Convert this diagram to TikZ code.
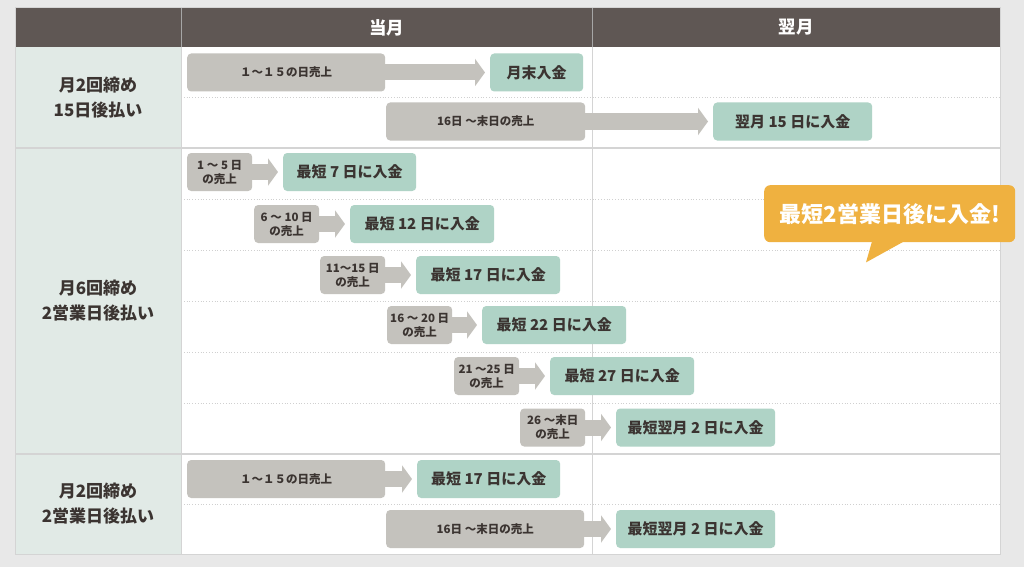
\documentclass[tikz,border=0pt]{standalone}
\usepackage{fontspec}
\setmainfont{Noto Sans CJK JP}
\usetikzlibrary{arrows.meta}
\definecolor{bgpage}{HTML}{E8E8E8}
\definecolor{hdrfill}{HTML}{5F5754}
\definecolor{labfill}{HTML}{E1EAE6}
\definecolor{boxgray}{HTML}{C4C2BD}
\definecolor{boxgreen}{HTML}{AFD3C6}
\definecolor{callorange}{HTML}{EFB140}
\definecolor{txt}{HTML}{3B3431}
\definecolor{gridline}{HTML}{D4D4D4}
\definecolor{dotline}{HTML}{D0D0D0}
\begin{document}
\begin{tikzpicture}[x=1pt,y=-1pt,
  gbox/.style={fill=boxgray, rounded corners=4pt, minimum height=38pt, inner sep=0pt,
    text=txt, font=\bfseries\fontsize{11.5}{14}\selectfont, align=center, anchor=west},
  rbox/.style={fill=boxgreen, rounded corners=4pt, minimum height=38pt, inner sep=0pt,
    text=txt, font=\bfseries\fontsize{15}{18}\selectfont, anchor=west},
  fat/.style={draw=boxgray, line width=16pt, -{Triangle[width=27pt,length=10pt]}},
  lab/.style={text=txt, font=\bfseries\fontsize{17}{25}\selectfont, align=center},
  hdr/.style={text=white, font=\bfseries\fontsize{17.5}{20}\selectfont},
  sep/.style={draw=gridline, line width=1.5pt},
  dotsep/.style={draw=dotline, line width=0.8pt, dotted}
]
\useasboundingbox (0,0) rectangle (1024,567);
\fill[bgpage] (0,0) rectangle (1024,567);
% table
\fill[white] (15,8) rectangle (1000,554);
\fill[labfill] (15,47) rectangle (181,554);
\fill[hdrfill] (15,8) rectangle (1000,47);
% grid
\foreach \yy in {97.5,504} \draw[dotsep] (181,\yy) -- (1000,\yy);
\foreach \yy in {199,250,301,352,403} \draw[dotsep] (181,\yy) -- (1000,\yy);
\draw[sep] (15,148) -- (1000,148);
\draw[sep] (15,454) -- (1000,454);
\draw[draw=gridline, line width=1pt] (181,47) -- (181,554);
\draw[draw=gridline, line width=1pt] (592,47) -- (592,554);
\draw[draw=gray!70, line width=1pt] (181,8) -- (181,47);
\draw[draw=gray!70, line width=1pt] (592,8) -- (592,47);
\draw[draw=gridline, line width=1pt] (15,8) rectangle (1000,554);
% headers
\node[hdr] (h1) at (386.5,27.5) {当月};
\node[hdr] (h2) at (796,27.5) {翌月};
% row labels
\node[lab] (l1) at (98,97.5) {月2回締め\\15日後払い};
\node[lab] (l2) at (98,301) {月6回締め\\2営業日後払い};
\node[lab] (l3) at (98,504) {月2回締め\\2営業日後払い};
% section 1
\node[gbox, minimum width=198pt] (a1) at (187,72.5) {１〜１５の日売上};
\node[rbox, minimum width=93pt] (b1) at (490,72.5) {月末入金};
\node[gbox, minimum width=199pt] (a2) at (386,121.5) {16日 〜末日の売上};
\node[rbox, minimum width=159pt] (b2) at (713,121.5) {翌月 15 日に入金};
% section 2
\node[gbox, minimum width=65pt] (c1) at (187,172) {1 〜 5 日\\の売上};
\node[rbox, minimum width=133pt] (d1) at (283,172) {最短 7 日に入金};
\node[gbox, minimum width=65pt] (c2) at (254,224) {6 〜 10 日\\の売上};
\node[rbox, minimum width=144pt] (d2) at (350,224) {最短 12 日に入金};
\node[gbox, minimum width=65pt] (c3) at (320,275) {11〜15 日\\の売上};
\node[rbox, minimum width=144pt] (d3) at (416,275) {最短 17 日に入金};
\node[gbox, minimum width=65pt] (c4) at (387,325) {16 〜 20 日\\の売上};
\node[rbox, minimum width=144pt] (d4) at (482,325) {最短 22 日に入金};
\node[gbox, minimum width=65pt] (c5) at (454,376) {21 〜25 日\\の売上};
\node[rbox, minimum width=144pt] (d5) at (550,376) {最短 27 日に入金};
\node[gbox, minimum width=65pt] (c6) at (520,427.5) {26 〜末日\\の売上};
\node[rbox, minimum width=159pt] (d6) at (616,427.5) {最短翌月 2 日に入金};
% section 3
\node[gbox, minimum width=198pt] (e1) at (187,479) {１〜１５の日売上};
\node[rbox, minimum width=143pt] (f1) at (417,479) {最短 17 日に入金};
\node[gbox, minimum width=198pt] (e2) at (386,529) {16日 〜末日の売上};
\node[rbox, minimum width=159pt] (f2) at (616,529) {最短翌月 2 日に入金};
% arrows
\foreach \s/\t in {a1/b1,a2/b2,c1/d1,c2/d2,c3/d3,c4/d4,c5/d5,c6/d6,e1/f1,e2/f2}
  \draw[fat] ([xshift=-1pt]\s.east) -- ([xshift=-5pt]\t.west);
% callout
\node[fill=callorange, rounded corners=6pt, minimum width=251pt, minimum height=57pt,
  inner sep=0pt, anchor=north west, text=white,
  font=\bfseries\fontsize{22}{26}\selectfont] (co) at (764,185) {最短2営業日後に入金!};
\fill[callorange] ([xshift=108pt,yshift=1pt]co.south west) -- ([xshift=102pt,yshift=-20pt]co.south west)
  -- ([xshift=140pt,yshift=1pt]co.south west) -- cycle;
\end{tikzpicture}
\end{document}
